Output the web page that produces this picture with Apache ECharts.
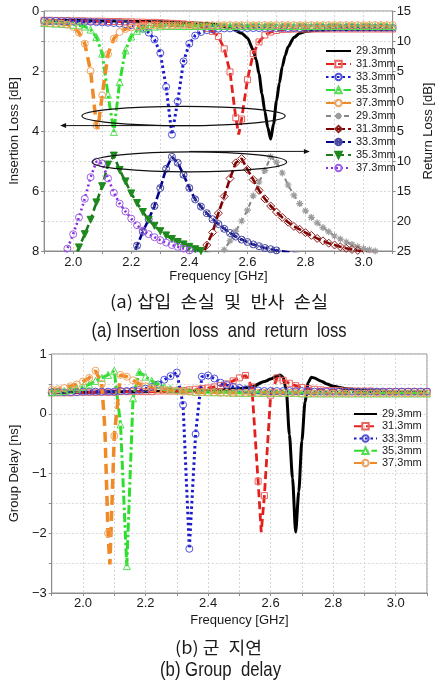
<!DOCTYPE html>
<html><head><meta charset="utf-8">
<script src="https://cdn.jsdelivr.net/npm/echarts@6/dist/echarts.min.js"></script>
<style>html,body{margin:0;padding:0;background:#fff}#c{width:443px;height:689px}</style>
</head><body><div id="c"></div>
<script>
// ---------- data ----------
const FREQ = [
1.90,1.92,1.94,1.96,1.98,2.00,2.02,2.04,2.06,2.08,
2.10,2.12,2.14,2.16,2.18,2.20,2.22,2.24,2.26,2.28,
2.30,2.32,2.34,2.36,2.38,2.40,2.42,2.44,2.46,2.48,
2.50,2.52,2.54,2.56,2.58,2.60,2.62,2.64,2.66,2.68,
2.70,2.72,2.74,2.76,2.78,2.80,2.82,2.84,2.86,2.88,
2.90,2.92,2.94,2.96,2.98,3.00,3.02,3.04,3.06,3.08,3.10];
// 29.3 mm traces (no markers), finer sampling around the resonance
const F29 = [1.90,2.00,2.10,2.20,2.30,2.40,2.46,2.50,2.54,2.58,2.60,2.62,2.63,2.64,2.65,2.66,2.67,2.68,2.69,2.70,2.71,2.72,2.73,2.74,2.76,2.78,2.80,2.84,2.90,3.00,3.10];
const IL_293 = [0.31,0.32,0.33,0.34,0.36,0.39,0.42,0.47,0.56,0.74,0.90,1.30,1.62,2.10,2.75,3.35,3.88,4.27,3.76,3.00,2.40,1.85,1.48,1.20,0.88,0.74,0.68,0.64,0.62,0.62,0.62];
const GD_293 = [0.36,0.36,0.37,0.37,0.38,0.39,0.41,0.42,0.45,0.54,0.58,0.63,0.65,0.61,0.40,-0.35,-1.08,-1.98,-1.30,-0.45,0.20,0.52,0.61,0.60,0.55,0.50,0.46,0.42,0.39,0.37,0.37];

// Insertion loss [dB]
const IL_313 = [
0.31,0.31,0.32,0.32,0.32,0.33,0.33,0.33,0.34,0.34,
0.34,0.35,0.35,0.35,0.36,0.36,0.37,0.37,0.38,0.38,
0.39,0.40,0.41,0.42,0.43,0.45,0.48,0.52,0.58,0.68,
0.85,1.26,2.03,3.56,3.60,2.29,1.42,1.03,0.80,0.70,
0.65,0.62,0.61,0.60,0.60,0.60,0.60,0.60,0.60,0.60,
0.60,0.60,0.60,0.60,0.60,0.60,0.60,0.60,0.60,0.60,0.60];
const IL_313_X = [[2.57, 4.12]];
const IL_333 = [
0.33,0.33,0.33,0.34,0.34,0.35,0.35,0.36,0.36,0.37,
0.38,0.39,0.40,0.42,0.44,0.47,0.52,0.59,0.72,0.95,
1.40,2.53,4.12,3.01,1.68,1.09,0.82,0.70,0.64,0.61,
0.59,0.58,0.58,0.57,0.57,0.57,0.57,0.57,0.57,0.57,
0.57,0.57,0.57,0.57,0.57,0.56,0.56,0.56,0.56,0.56,
0.56,0.56,0.56,0.56,0.56,0.56,0.56,0.56,0.56,0.56,0.56];
const IL_353 = [
0.40,0.41,0.42,0.43,0.44,0.46,0.48,0.52,0.62,0.87,
1.42,2.79,4.03,2.37,1.31,0.85,0.66,0.58,0.54,0.52,
0.51,0.50,0.50,0.50,0.50,0.50,0.50,0.50,0.50,0.50,
0.50,0.50,0.50,0.50,0.50,0.50,0.50,0.50,0.50,0.50,
0.50,0.50,0.50,0.50,0.50,0.50,0.50,0.50,0.50,0.50,
0.50,0.50,0.50,0.50,0.50,0.50,0.50,0.50,0.50,0.50,0.50];
const IL_373 = [
0.39,0.40,0.40,0.42,0.45,0.53,0.72,1.09,2.00,3.81,
2.81,1.44,0.92,0.70,0.60,0.55,0.52,0.50,0.49,0.48,
0.48,0.48,0.48,0.47,0.47,0.47,0.47,0.47,0.47,0.47,
0.47,0.47,0.47,0.47,0.47,0.47,0.47,0.47,0.47,0.47,
0.47,0.47,0.47,0.47,0.47,0.47,0.47,0.47,0.47,0.47,
0.47,0.47,0.47,0.47,0.47,0.47,0.47,0.47,0.47,0.47,0.47];
const IL_373_X = [[2.085, 3.93]];

// Return loss [dB] (null = below the 25 dB edge)
const RL_293 = [
null,null,null,null,null,null,null,null,null,null,
null,null,null,null,null,null,null,null,null,null,
null,null,null,null,null,null,null,null,null,null,
26.8,24.8,23.3,21.7,20.0,18.2,15.8,13.5,11.6,9.3,
10.2,12.0,14.0,15.7,17.1,18.3,19.4,20.3,21.1,21.8,
22.5,23.0,23.5,23.9,24.3,24.6,24.8,25.0,25.2,25.4,25.6];
const RL_313 = [
null,null,null,null,null,null,null,null,null,null,
null,null,null,null,null,null,null,null,null,null,
null,null,null,null,null,null,null,26.6,24.0,21.9,
18.7,15.9,12.9,10.3,9.6,11.4,13.1,14.9,16.3,17.5,
18.5,19.4,20.2,20.9,21.4,21.95,22.4,22.9,23.3,23.7,
24.0,24.3,24.55,24.75,24.9,25.1,25.3,25.5,25.7,25.9,26.1];
const RL_333 = [
null,null,null,null,null,null,null,null,null,null,
null,null,null,null,null,26.5,24.1,21.8,19.7,17.5,
14.5,11.3,9.3,10.3,12.3,14.5,16.4,17.6,18.7,19.7,
20.5,21.3,22.0,22.6,23.1,23.5,23.9,24.2,24.5,24.7,
24.9,25.05,25.2,25.35,25.5,null,null,null,null,null,
null,null,null,null,null,null,null,null,null,null,null];
const RL_353 = [
null,null,null,null,null,26.8,24.4,22.2,19.8,16.9,
14.2,10.6,9.1,11.5,13.4,15.4,17.0,18.5,19.8,20.8,
21.7,22.4,23.0,23.5,23.9,24.3,24.7,25.0,25.3,25.6,
null,null,null,null,null,null,null,null,null,null,
null,null,null,null,null,null,null,null,null,null,
null,null,null,null,null,null,null,null,null,null,null];
const RL_373 = [
null,null,null,26.8,24.6,22.2,19.4,16.3,12.7,10.1,
10.4,12.9,15.3,17.1,18.4,19.6,20.7,21.6,22.2,22.7,
23.2,23.6,24.0,24.3,24.6,24.9,25.2,25.5,null,null,
null,null,null,null,null,null,null,null,null,null,
null,null,null,null,null,null,null,null,null,null,
null,null,null,null,null,null,null,null,null,null,null];

// Group delay [ns]
const GD_313 = [
0.35,0.35,0.35,0.35,0.36,0.36,0.36,0.36,0.36,0.36,
0.36,0.37,0.37,0.37,0.37,0.37,0.37,0.38,0.38,0.38,
0.38,0.39,0.40,0.41,0.42,0.43,0.45,0.47,0.50,0.55,
0.60,0.64,0.45,-1.13,-1.37,0.31,0.60,0.56,0.51,0.47,
0.44,0.42,0.41,0.40,0.39,0.39,0.39,0.38,0.38,0.38,
0.38,0.38,0.37,0.37,0.37,0.37,0.37,0.37,0.37,0.37,0.37];
const GD_313_X = [[2.57, -1.98]];
const GD_333 = [
0.36,0.36,0.36,0.36,0.36,0.37,0.37,0.37,0.37,0.37,
0.37,0.38,0.38,0.39,0.40,0.42,0.45,0.49,0.57,0.63,
0.69,0.15,-2.26,-0.34,0.62,0.64,0.59,0.52,0.48,0.45,
0.43,0.41,0.40,0.39,0.38,0.38,0.38,0.38,0.38,0.38,
0.38,0.38,0.37,0.37,0.37,0.37,0.37,0.37,0.37,0.37,
0.37,0.37,0.37,0.37,0.37,0.37,0.37,0.37,0.37,0.37,0.37];
const GD_353 = [
0.36,0.37,0.38,0.40,0.42,0.45,0.49,0.55,0.60,0.65,
0.72,-0.18,-2.55,0.26,0.70,0.62,0.55,0.49,0.45,0.42,
0.40,0.39,0.38,0.37,0.37,0.36,0.36,0.36,0.36,0.35,
0.35,0.35,0.35,0.35,0.35,0.35,0.35,0.35,0.35,0.35,
0.34,0.34,0.34,0.34,0.34,0.34,0.34,0.34,0.34,0.34,
0.34,0.34,0.34,0.34,0.34,0.34,0.34,0.34,0.34,0.34,0.34];
const GD_373 = [
0.40,0.41,0.43,0.46,0.49,0.54,0.60,0.72,0.50,-2.00,
-0.37,0.65,0.62,0.56,0.50,0.46,0.43,0.41,0.40,0.39,
0.38,0.37,0.37,0.36,0.36,0.36,0.36,0.35,0.35,0.35,
0.35,0.35,0.35,0.35,0.35,0.35,0.35,0.35,0.35,0.35,
0.34,0.34,0.34,0.34,0.34,0.34,0.34,0.34,0.34,0.34,
0.34,0.34,0.34,0.34,0.34,0.34,0.34,0.34,0.34,0.34,0.34];
const GD_373_X = [[2.07, -0.25], [2.086, -2.52]];

const NAMES = ['29.3mm','31.3mm','33.3mm','35.3mm','37.3mm'];
// annotation ellipses / arrows in (GHz, dB of insertion-loss axis)
const ELL = [{cx:2.38, cy:3.50, rx:0.35, ry:0.32}, {cx:2.40, cy:5.03, rx:0.335, ry:0.333}];
const ARROWS = [[[2.44, 3.82],[1.955, 3.82]], [[2.40, 4.68],[2.815, 4.68]]];

// ---------- chart ----------
const FONT = '"Liberation Sans", Arial, sans-serif';
const AX = '#8c8c8c', GRIDC = '#d6d6d6', TXT = '#1a1a1a';
const ASTER = 'path://M5,0L5,10M0,5L10,5M1.6,1.6L8.4,8.4M8.4,1.6L1.6,8.4';
const CIRCX = 'path://M10,5A5,5,0,1,1,0,5A5,5,0,1,1,10,5ZM1.5,1.5L8.5,8.5M8.5,1.5L1.5,8.5';

function build(xs, ys, extra) {
  const pts = [];
  xs.forEach((x, i) => { if (ys[i] !== null && ys[i] !== undefined) pts.push({value: [x, ys[i]]}); });
  (extra || []).forEach(p => pts.push({value: [p[0], p[1]], symbol: 'none'}));
  pts.sort((a, b) => a.value[0] - b.value[0]);
  return pts;
}
function S(name, xs, ys, extra, o) {
  return {
    type: 'line', name: name, xAxisIndex: o.xi, yAxisIndex: o.yi,
    data: build(xs, ys, extra),
    symbol: o.sym || 'none', symbolSize: o.size || 6, symbolRotate: o.rot || 0,
    smooth: o.smooth || false, smoothMonotone: o.smooth ? 'x' : undefined,
    lineStyle: {color: o.color, width: o.w, type: o.dash, cap: 'butt'},
    itemStyle: {color: o.fill || 'transparent', borderColor: o.mc || o.color, borderWidth: o.bw === undefined ? 1 : o.bw},
    emphasis: {disabled: true}, clip: true, z: o.z || 2
  };
}
const ST = {
  k:  {color:'#000000', w:3, dash:'solid', sym:'none', smooth:0.25, bw:0, z:1},
  r:  {color:'#e3201c', w:2.8, dash:[8,4], sym:'rect', size:6, mc:'#e86562'},
  b:  {color:'#1a1acc', w:3, dash:[2.5,3], sym:'circle', size:7, mc:'#5252d8'},
  g:  {color:'#2ede2e', w:3, dash:[9,3,2.5,3], sym:'triangle', size:7, mc:'#55dd55'},
  o:  {color:'#f08a26', w:3.5, dash:[10,6], sym:'circle', size:7, mc:'#f0a462'}
};
function st(base, xi, yi) { return Object.assign({}, base, {xi: xi, yi: yi}); }

const series = [
  S(NAMES[0], F29, IL_293, null, st(ST.k,0,0)),
  S(NAMES[1], FREQ, IL_313, IL_313_X, st(ST.r,0,0)),
  S(NAMES[2], FREQ, IL_333, null, st(ST.b,0,0)),
  S(NAMES[3], FREQ, IL_353, null, st(ST.g,0,0)),
  S(NAMES[4], FREQ, IL_373, IL_373_X, st(ST.o,0,0)),
  S(NAMES[0]+' ', FREQ, RL_293, null, {xi:0, yi:1, color:'#858585', w:2, dash:[5,4], sym:ASTER, size:7, mc:'#9c9c9c', bw:1.2}),
  S(NAMES[1]+' ', FREQ, RL_313, null, {xi:0, yi:1, color:'#800000', w:2.6, dash:[8,3], sym:'diamond', size:8, mc:'#8e2020'}),
  S(NAMES[2]+' ', FREQ, RL_333, null, {xi:0, yi:1, color:'#00008b', w:2.6, dash:[8,3], sym:CIRCX, size:7, mc:'#4848a2'}),
  S(NAMES[3]+' ', FREQ, RL_353, null, {xi:0, yi:1, color:'#1b7a1b', w:2.6, dash:[7,4], sym:'triangle', rot:180, size:7, fill:'#1e8a1e', mc:'#1e8a1e'}),
  S(NAMES[4]+' ', FREQ, RL_373, null, {xi:0, yi:1, color:'#8a2be2', w:2.6, dash:[2,3], sym:'circle', size:7, mc:'#9d60e6'}),
  S(NAMES[0]+'\u00a0', F29, GD_293, null, st(ST.k,1,2)),
  S(NAMES[1]+'\u00a0', FREQ, GD_313, GD_313_X, st(ST.r,1,2)),
  S(NAMES[2]+'\u00a0', FREQ, GD_333, null, st(ST.b,1,2)),
  S(NAMES[3]+'\u00a0', FREQ, GD_353, null, st(ST.g,1,2)),
  S(NAMES[4]+'\u00a0', FREQ, GD_373, GD_373_X, st(ST.o,1,2))
];

const lab = o => Object.assign({fontSize:13, color:TXT, fontFamily:FONT}, o);
const nameTS = {fontSize:13, color:TXT, fontFamily:FONT};
const fmtX = v => (Math.abs(v * 5 - Math.round(v * 5)) < 1e-6) ? v.toFixed(1) : '';
function xAx(gi, gap, margin) {
  return {gridIndex:gi, type:'value', min:1.9, max:3.1, interval:0.1, position:'bottom',
    name:'Frequency [GHz]', nameLocation:'middle', nameGap:gap, nameTextStyle:nameTS,
    axisLine:{show:true, onZero:false, lineStyle:{color:AX}},
    axisTick:{show:true, length:3, lineStyle:{color:AX}},
    axisLabel:lab({margin:margin, formatter:fmtX}),
    splitLine:{show:true, lineStyle:{color:GRIDC, type:[2,2], width:1}}};
}
function yAx(o) {
  return Object.assign({type:'value', nameLocation:'middle', nameRotate:90, nameTextStyle:nameTS,
    axisLine:{show:true, onZero:false, lineStyle:{color:AX}},
    axisTick:{show:true, length:3, lineStyle:{color:AX}},
    splitLine:{show:true, lineStyle:{color:GRIDC, type:[2,2], width:1}}}, o);
}

const legendBase = {orient:'vertical', itemWidth:25, itemHeight:8, padding:0, selectedMode:false,
  formatter: n => n.trim(), textStyle:{fontSize:11, fontFamily:FONT, color:TXT, lineHeight:12}};

const chart = echarts.init(document.getElementById('c'), null, {renderer:'canvas', width:443, height:689});
chart.setOption({
  animation:false, backgroundColor:'#ffffff',
  grid:[
    {left:33, right:41, top:11, height:240, show:true, borderColor:AX, borderWidth:1, backgroundColor:'transparent'},
    {left:46, right:16, top:354, height:239, show:true, borderColor:AX, borderWidth:1, backgroundColor:'transparent'}
  ],
  xAxis:[xAx(0, 19, 5), xAx(1, 21, 4)],
  yAxis:[
    yAx({gridIndex:0, position:'left', min:0, max:8, interval:1, inverse:true, name:'Insertion Loss [dB]', nameGap:14,
      axisLabel:lab({margin:5, formatter: v => (Math.round(v) % 2 === 0 ? String(Math.round(v)) : '')})}),
    yAx({gridIndex:0, position:'right', min:-15, max:25, interval:5, inverse:true, name:'Return Loss [dB]', nameGap:20,
      splitLine:{show:false}, axisLabel:lab({margin:4, formatter: v => String(Math.abs(Math.round(v)))})}),
    yAx({gridIndex:1, position:'left', min:-3, max:1, interval:0.5, name:'Group Delay [ns]', nameGap:21,
      axisLabel:lab({margin:5, formatter: v => Number.isInteger(v) ? (v < 0 ? '\u2212' + Math.abs(v) : String(v)) : ''})})
  ],
  legend:[
    Object.assign({}, legendBase, {left:325, top:45, itemGap:1, data: series.slice(0,10).map(s => s.name)}),
    Object.assign({}, legendBase, {left:353, top:408, itemWidth:23, itemGap:0.25, data: series.slice(10).map(s => s.name)})
  ],
  series: series
});

// ---------- annotations & captions ----------
const toPx = p => chart.convertToPixel({xAxisIndex:0, yAxisIndex:0}, p);
const gfx = [];
ELL.forEach(e => {
  const c = toPx([e.cx, e.cy]), r = toPx([e.cx + e.rx, e.cy + e.ry]);
  gfx.push({type:'ellipse', silent:true, z:50, shape:{cx:c[0], cy:c[1], rx:Math.abs(r[0]-c[0]), ry:Math.abs(r[1]-c[1])},
    style:{fill:'none', stroke:'#111', lineWidth:1.2}});
});
ARROWS.forEach(a => {
  const p0 = toPx(a[0]), p1 = toPx(a[1]);
  const d = Math.sign(p1[0] - p0[0]), L = 6, H = 2.5;
  gfx.push({type:'line', silent:true, z:50, shape:{x1:p0[0], y1:p0[1], x2:p1[0]-d*L, y2:p1[1]}, style:{stroke:'#111', lineWidth:1}});
  gfx.push({type:'polygon', silent:true, z:50, shape:{points:[[p1[0],p1[1]],[p1[0]-d*L,p1[1]-H],[p1[0]-d*L,p1[1]+H]]}, style:{fill:'#111'}});
});
const ctx = document.createElement('canvas').getContext('2d');
function caption(text, cx, cy, size, family, targetW) {
  ctx.font = size + 'px ' + family;
  const w = ctx.measureText(text).width || targetW;
  return {type:'text', silent:true, x:cx, y:cy, scaleX: targetW / w, z:50,
    style:{text:text, fontSize:size, fontFamily:family, fill:TXT, align:'center', verticalAlign:'middle',
      textAlign:'center', textVerticalAlign:'middle'}};
}
const KR = '"Noto Sans CJK KR", sans-serif', EN = '"Liberation Sans", Arial, sans-serif';
gfx.push(caption('(a) 삽입\u2002손실\u2002및\u2002반사\u2002손실', 219, 302, 17, KR, 218));
gfx.push(caption('(a) Insertion  loss  and  return  loss', 219, 331, 21, EN, 255));
gfx.push(caption('(b) 군\u2002지연', 218.5, 648, 17, KR, 87));
gfx.push(caption('(b) Group  delay', 220.5, 670, 21, EN, 121));
chart.setOption({graphic: gfx});
</script>
</body></html>
